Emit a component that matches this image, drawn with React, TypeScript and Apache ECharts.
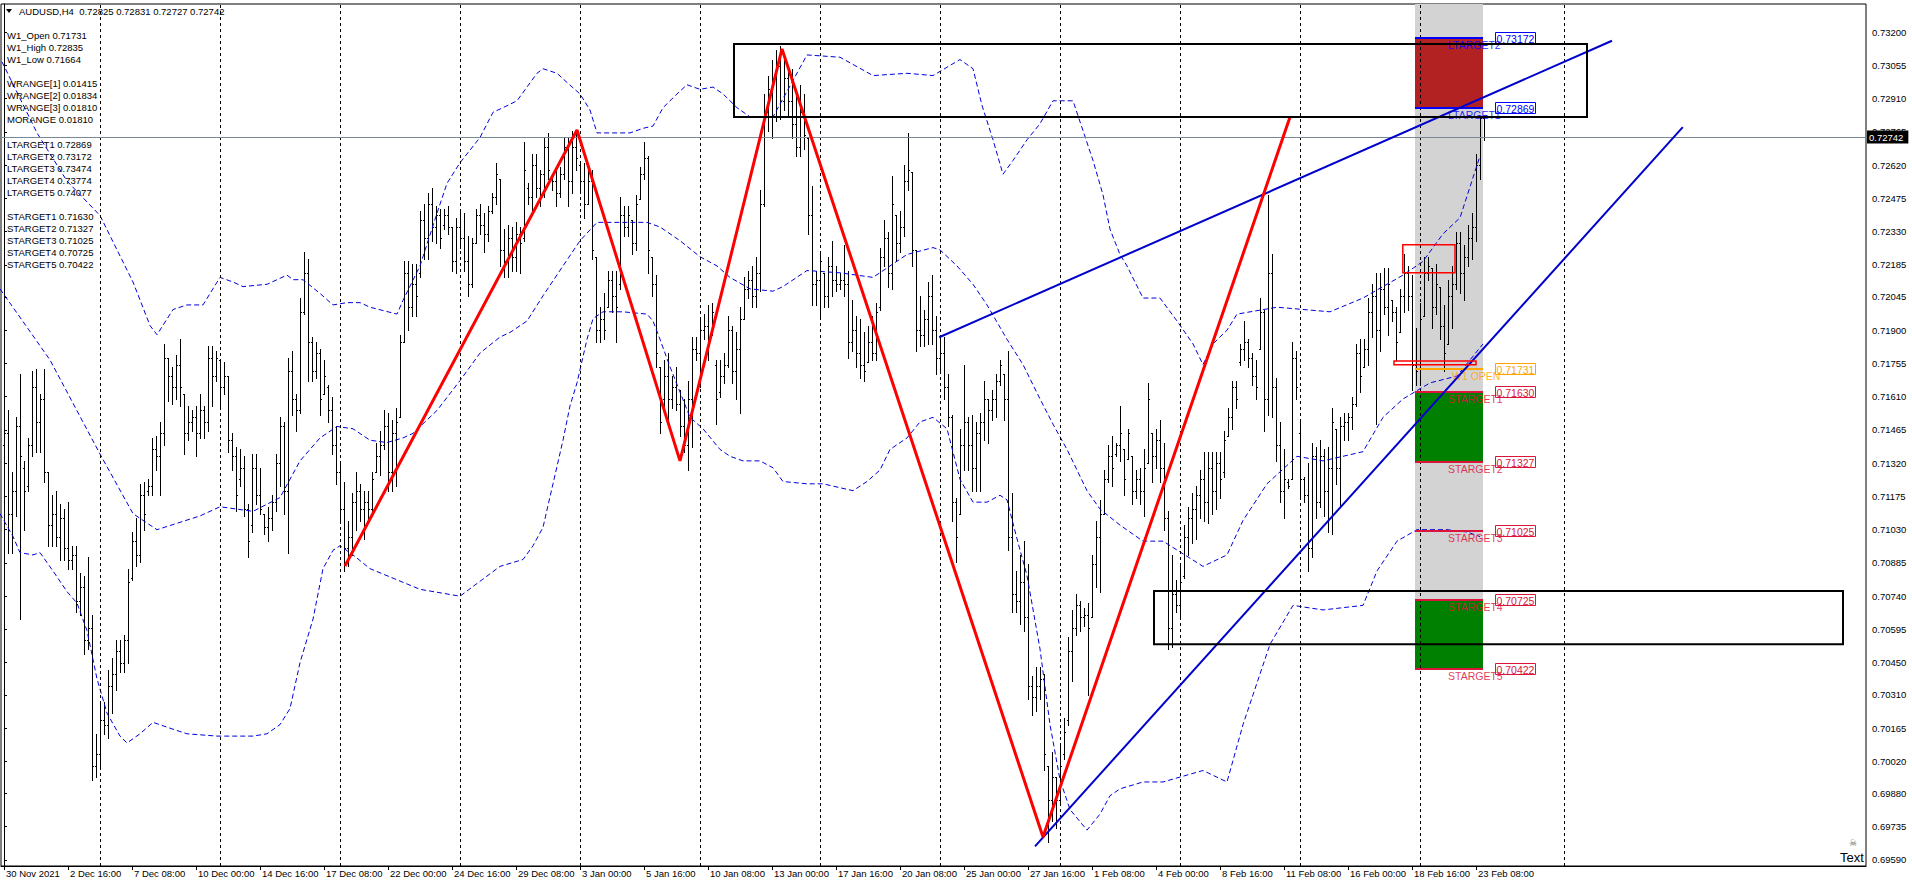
import React, { useEffect, useRef } from "react";
import * as echarts from "echarts";

const FONT = '"Liberation Sans", Arial, sans-serif';

// ---------- axis ----------
const Y_MIN = 0.695636;
const Y_MAX = 0.733221;
const X_MIN = -0.75;
const X_MAX = 465.5;
const Y_TICKS = [0.732, 0.73055, 0.7291, 0.72765, 0.7262, 0.72475, 0.7233, 0.72185, 0.72045, 0.719, 0.71755, 0.7161, 0.71465, 0.7132, 0.71175, 0.7103, 0.70885, 0.7074, 0.70595, 0.7045, 0.7031, 0.70165, 0.7002, 0.6988, 0.69735, 0.6959];
const DATE_LABELS = ["30 Nov 2021", "2 Dec 16:00", "7 Dec 08:00", "10 Dec 00:00", "14 Dec 16:00", "17 Dec 08:00", "22 Dec 00:00", "24 Dec 16:00", "29 Dec 08:00", "3 Jan 00:00", "5 Jan 16:00", "10 Jan 08:00", "13 Jan 00:00", "17 Jan 16:00", "20 Jan 08:00", "25 Jan 00:00", "27 Jan 16:00", "1 Feb 08:00", "4 Feb 00:00", "8 Feb 16:00", "11 Feb 08:00", "16 Feb 00:00", "18 Feb 16:00", "23 Feb 08:00"];
const BARS_PER_LABEL = 16;
const WEEK_SEPARATORS = [24, 54, 84, 114, 144, 174, 204, 234, 264, 294, 324, 354, 390];

// ---------- header / info ----------
const SYMBOL = "AUDUSD,H4";
const LAST_OHLC = [0.72825, 0.72831, 0.72727, 0.72742];
const W1_VALUES = [0.71731, 0.72835, 0.71664]; // open, high, low
const WRANGES = [0.01415, 0.01834, 0.0181];
const MORANGE = 0.0181;
const LTARGETS = [0.72869, 0.73172, 0.73474, 0.73774, 0.74077];
const STARGETS = [0.7163, 0.71327, 0.71025, 0.70725, 0.70422];

// ---------- OHLC bars, H4, one array per week [open, high, low, close] ----------
const WEEK_48 = [
  [0.714, 0.7154, 0.7127, 0.7145], [0.7145, 0.7155, 0.7093, 0.711], [0.711, 0.7128, 0.7093, 0.712], [0.712, 0.7152, 0.7109, 0.7148],
  [0.7148, 0.7171, 0.7064, 0.7135], [0.713, 0.7133, 0.7103, 0.712], [0.7122, 0.7143, 0.712, 0.714], [0.714, 0.7172, 0.7135, 0.7165],
  [0.7165, 0.7173, 0.7137, 0.715], [0.715, 0.7162, 0.7137, 0.716], [0.716, 0.7173, 0.7124, 0.7128], [0.7128, 0.7128, 0.7096, 0.7105],
  [0.7105, 0.7118, 0.7096, 0.711], [0.711, 0.712, 0.7096, 0.71], [0.71, 0.7114, 0.709, 0.7108], [0.7108, 0.7112, 0.709, 0.7095],
  [0.7095, 0.7115, 0.7086, 0.709], [0.709, 0.7096, 0.7086, 0.7092], [0.7092, 0.7096, 0.7067, 0.7072], [0.7072, 0.7084, 0.7066, 0.7078],
  [0.7078, 0.7083, 0.7049, 0.7055], [0.7055, 0.7091, 0.7051, 0.706], [0.706, 0.7066, 0.6994, 0.7], [0.7, 0.7014, 0.6995, 0.7005],
];
const WEEK_49 = [
  [0.7005, 0.7027, 0.6999, 0.702], [0.702, 0.7028, 0.7014, 0.7018], [0.7018, 0.7042, 0.7012, 0.7035], [0.7035, 0.7047, 0.7023, 0.704],
  [0.704, 0.7055, 0.7033, 0.705], [0.705, 0.7055, 0.7041, 0.7045], [0.7045, 0.7057, 0.7041, 0.7055], [0.7055, 0.7086, 0.7045, 0.708],
  [0.7082, 0.7102, 0.7081, 0.7098], [0.7098, 0.7108, 0.7087, 0.7092], [0.7092, 0.7123, 0.7089, 0.7118], [0.7118, 0.7124, 0.7103, 0.711],
  [0.712, 0.7125, 0.7118, 0.7122], [0.7122, 0.7143, 0.7118, 0.7138], [0.7138, 0.7144, 0.7129, 0.7135], [0.7135, 0.715, 0.7118, 0.7145],
  [0.7145, 0.7184, 0.714, 0.7178], [0.7178, 0.7178, 0.7159, 0.717], [0.717, 0.7174, 0.7158, 0.7165], [0.7165, 0.7179, 0.716, 0.7175],
  [0.7175, 0.7186, 0.7157, 0.7165], [0.7162, 0.7162, 0.7136, 0.7145], [0.7145, 0.7157, 0.7142, 0.715], [0.715, 0.7155, 0.7146, 0.7152],
  [0.7152, 0.7157, 0.7135, 0.7145], [0.7145, 0.7162, 0.7143, 0.7155], [0.7155, 0.7157, 0.7143, 0.715], [0.715, 0.7183, 0.7146, 0.7178],
  [0.7178, 0.7183, 0.7157, 0.717], [0.717, 0.7181, 0.7168, 0.7178],
];
const WEEK_50 = [
  [0.7177, 0.7177, 0.7157, 0.7165], [0.7165, 0.7176, 0.7162, 0.717], [0.717, 0.717, 0.7137, 0.7142], [0.7142, 0.7145, 0.7129, 0.7135],
  [0.7135, 0.7139, 0.7111, 0.7118], [0.7125, 0.7138, 0.7122, 0.713], [0.713, 0.7135, 0.7109, 0.7112], [0.7112, 0.7114, 0.7091, 0.7098],
  [0.7105, 0.7136, 0.7102, 0.713], [0.713, 0.7136, 0.7114, 0.7118], [0.7118, 0.713, 0.711, 0.7112], [0.711, 0.711, 0.7101, 0.7104],
  [0.7104, 0.7113, 0.7098, 0.7108], [0.7108, 0.7118, 0.7103, 0.7115], [0.7115, 0.7136, 0.7111, 0.7132], [0.7132, 0.7152, 0.7122, 0.7148],
  [0.7148, 0.715, 0.711, 0.712], [0.712, 0.7178, 0.7093, 0.7172], [0.7172, 0.7181, 0.7153, 0.716], [0.716, 0.7162, 0.7146, 0.7155],
  [0.7155, 0.7204, 0.7154, 0.7198], [0.7198, 0.7224, 0.7197, 0.7215], [0.7215, 0.7221, 0.7168, 0.7185], [0.7185, 0.7187, 0.7168, 0.7172],
  [0.7172, 0.7185, 0.7169, 0.718], [0.718, 0.7182, 0.7153, 0.716], [0.7162, 0.7177, 0.7162, 0.717], [0.7165, 0.7166, 0.715, 0.7155],
  [0.7155, 0.7161, 0.7136, 0.714], [0.714, 0.7148, 0.7123, 0.7128],
];
const WEEK_51 = [
  [0.7128, 0.7133, 0.7107, 0.7112], [0.7112, 0.7124, 0.7085, 0.7095], [0.7095, 0.7107, 0.7087, 0.71], [0.71, 0.7119, 0.7092, 0.7115],
  [0.7115, 0.7128, 0.7103, 0.712], [0.712, 0.7123, 0.7107, 0.7112], [0.7112, 0.712, 0.7099, 0.7115], [0.7115, 0.712, 0.7107, 0.7112],
  [0.7112, 0.7128, 0.7109, 0.7125], [0.7128, 0.7141, 0.7128, 0.7135], [0.7135, 0.7146, 0.7127, 0.714], [0.714, 0.7155, 0.7138, 0.7148],
  [0.7148, 0.7154, 0.712, 0.7128], [0.7128, 0.7151, 0.712, 0.7145], [0.7145, 0.7156, 0.7122, 0.715], [0.7152, 0.7188, 0.7152, 0.7185],
  [0.7185, 0.722, 0.7185, 0.7215], [0.7215, 0.722, 0.719, 0.72], [0.72, 0.7219, 0.7196, 0.721], [0.721, 0.7219, 0.7196, 0.7205],
  [0.7215, 0.7242, 0.7213, 0.7238], [0.7238, 0.7245, 0.7221, 0.723], [0.723, 0.725, 0.7221, 0.7245], [0.7245, 0.7252, 0.7229, 0.7235],
  [0.7235, 0.7244, 0.7228, 0.724], [0.724, 0.7243, 0.7226, 0.723], [0.7236, 0.7243, 0.7234, 0.724], [0.724, 0.7244, 0.7232, 0.7235],
  [0.7235, 0.7235, 0.7216, 0.722], [0.722, 0.7239, 0.7215, 0.7235],
];
const WEEK_52 = [
  [0.7235, 0.7242, 0.7226, 0.723], [0.723, 0.7241, 0.7216, 0.722], [0.722, 0.7231, 0.7205, 0.721], [0.721, 0.723, 0.7209, 0.7228],
  [0.7228, 0.7243, 0.7228, 0.724], [0.724, 0.7245, 0.7232, 0.7236], [0.7236, 0.7241, 0.7224, 0.7232], [0.7232, 0.7244, 0.7229, 0.7242],
  [0.7242, 0.725, 0.7241, 0.7248], [0.7248, 0.7263, 0.7245, 0.7258], [0.7256, 0.7256, 0.7218, 0.7225], [0.7225, 0.7234, 0.7213, 0.722],
  [0.722, 0.7236, 0.7213, 0.723], [0.723, 0.7235, 0.7216, 0.7222], [0.7222, 0.7237, 0.7216, 0.7232], [0.7232, 0.7235, 0.7215, 0.7228],
  [0.723, 0.7272, 0.7229, 0.726], [0.7252, 0.7254, 0.7245, 0.7248], [0.7248, 0.7267, 0.7241, 0.7262], [0.7262, 0.7267, 0.7248, 0.7252],
  [0.7252, 0.726, 0.7244, 0.7258], [0.7258, 0.7274, 0.7248, 0.727], [0.727, 0.7276, 0.7256, 0.726], [0.7257, 0.7258, 0.7251, 0.7255],
  [0.7255, 0.7261, 0.7244, 0.725], [0.725, 0.7261, 0.7248, 0.7258], [0.7258, 0.7274, 0.7256, 0.727], [0.727, 0.7274, 0.7244, 0.7255],
  [0.7255, 0.7277, 0.725, 0.727], [0.727, 0.7277, 0.726, 0.7265],
];
const WEEK_01 = [
  [0.7262, 0.7263, 0.7251, 0.7255], [0.7255, 0.7263, 0.7239, 0.7245], [0.7245, 0.7261, 0.7245, 0.7255], [0.7255, 0.726, 0.7221, 0.7225],
  [0.7222, 0.7222, 0.7185, 0.719], [0.719, 0.72, 0.7185, 0.7195], [0.7195, 0.7206, 0.7186, 0.719], [0.72, 0.7216, 0.72, 0.7212],
  [0.7212, 0.7216, 0.7198, 0.7205], [0.7205, 0.7216, 0.7185, 0.72], [0.721, 0.7248, 0.7208, 0.724], [0.724, 0.7244, 0.7231, 0.7235],
  [0.7235, 0.7244, 0.7231, 0.724], [0.7238, 0.7238, 0.7223, 0.7228], [0.7228, 0.7249, 0.7225, 0.7245], [0.7247, 0.7261, 0.7247, 0.7258],
  [0.7258, 0.7272, 0.7256, 0.7265], [0.7265, 0.7266, 0.7215, 0.7225], [0.7222, 0.7222, 0.7205, 0.721], [0.721, 0.7214, 0.7174, 0.718],
  [0.7174, 0.7174, 0.7145, 0.715], [0.716, 0.7177, 0.7156, 0.717], [0.717, 0.718, 0.7151, 0.716], [0.716, 0.717, 0.7156, 0.7165],
  [0.7165, 0.7174, 0.7155, 0.7158], [0.7158, 0.7164, 0.7144, 0.7148], [0.7148, 0.716, 0.7137, 0.714], [0.714, 0.7168, 0.7129, 0.716],
  [0.716, 0.7187, 0.7139, 0.7182], [0.7182, 0.7187, 0.7177, 0.718],
];
const WEEK_02 = [
  [0.718, 0.7195, 0.7165, 0.719], [0.719, 0.7197, 0.7186, 0.7192], [0.7192, 0.7201, 0.7177, 0.7185], [0.7188, 0.7202, 0.7188, 0.7198],
  [0.7175, 0.7177, 0.7149, 0.716], [0.7163, 0.7177, 0.7161, 0.717], [0.717, 0.718, 0.7167, 0.7175], [0.7175, 0.7196, 0.7174, 0.719],
  [0.719, 0.7192, 0.7167, 0.7172], [0.7172, 0.7189, 0.716, 0.7182], [0.7182, 0.72, 0.7154, 0.7195], [0.7195, 0.7213, 0.7195, 0.7208],
  [0.7208, 0.7216, 0.7204, 0.7212], [0.7212, 0.7218, 0.72, 0.7205], [0.7205, 0.7222, 0.72, 0.7215], [0.7215, 0.7251, 0.7207, 0.7245],
  [0.7245, 0.7293, 0.7244, 0.7285], [0.7285, 0.7301, 0.7277, 0.7295], [0.7295, 0.7308, 0.7274, 0.73], [0.73, 0.7312, 0.7281, 0.7305],
  [0.7305, 0.7314, 0.7282, 0.729], [0.729, 0.731, 0.7286, 0.73], [0.73, 0.7304, 0.7284, 0.729], [0.729, 0.7304, 0.7274, 0.728],
  [0.728, 0.7295, 0.7266, 0.727], [0.727, 0.7297, 0.7266, 0.7285], [0.7285, 0.7293, 0.7269, 0.7275], [0.7274, 0.7274, 0.7232, 0.724],
  [0.724, 0.7253, 0.7201, 0.721], [0.721, 0.7216, 0.7201, 0.7212],
];
const WEEK_03 = [
  [0.7212, 0.7224, 0.7196, 0.722], [0.7215, 0.7215, 0.72, 0.7205], [0.7205, 0.7222, 0.72, 0.7218], [0.7218, 0.7229, 0.7205, 0.7212],
  [0.7212, 0.7218, 0.7207, 0.721], [0.721, 0.7215, 0.7208, 0.7212], [0.7212, 0.7227, 0.7205, 0.721], [0.721, 0.7216, 0.7178, 0.7185],
  [0.7185, 0.7203, 0.7181, 0.719], [0.719, 0.7196, 0.7174, 0.718], [0.718, 0.7195, 0.7169, 0.7175], [0.7175, 0.7189, 0.7168, 0.7172],
  [0.7176, 0.7192, 0.7176, 0.7185], [0.7185, 0.7196, 0.7177, 0.718], [0.718, 0.7202, 0.7177, 0.7198], [0.72, 0.7226, 0.7199, 0.7222],
  [0.7222, 0.7238, 0.7218, 0.723], [0.723, 0.7233, 0.7209, 0.7215], [0.7215, 0.7257, 0.7208, 0.7245], [0.724, 0.724, 0.722, 0.7228],
  [0.7228, 0.7242, 0.7224, 0.7235], [0.7235, 0.7262, 0.7231, 0.7255], [0.7255, 0.7276, 0.7251, 0.726], [0.7259, 0.7259, 0.7218, 0.7225],
  [0.7225, 0.7225, 0.7181, 0.719], [0.719, 0.7205, 0.7183, 0.7188], [0.7188, 0.7199, 0.7183, 0.7195], [0.7195, 0.7211, 0.7184, 0.7205],
  [0.7205, 0.7214, 0.7184, 0.719], [0.719, 0.7196, 0.7171, 0.7178],
];
const WEEK_04 = [
  [0.7178, 0.7187, 0.7172, 0.718], [0.718, 0.7187, 0.716, 0.7165], [0.7165, 0.7171, 0.7148, 0.7152], [0.7152, 0.7153, 0.7107, 0.7115],
  [0.7115, 0.7117, 0.7089, 0.71], [0.711, 0.7147, 0.711, 0.714], [0.714, 0.7175, 0.7129, 0.715], [0.715, 0.7152, 0.7129, 0.714],
  [0.714, 0.7153, 0.712, 0.713], [0.713, 0.715, 0.712, 0.7145], [0.7145, 0.7154, 0.712, 0.715], [0.715, 0.7168, 0.7142, 0.716],
  [0.716, 0.716, 0.7141, 0.7155], [0.7155, 0.7164, 0.7151, 0.716], [0.716, 0.7171, 0.7152, 0.7168], [0.7168, 0.7177, 0.7166, 0.7175],
  [0.7171, 0.7171, 0.7151, 0.716], [0.716, 0.7181, 0.7094, 0.71], [0.71, 0.7119, 0.7067, 0.7075], [0.7075, 0.7085, 0.7067, 0.7072],
  [0.7072, 0.7092, 0.7062, 0.708], [0.708, 0.7098, 0.7059, 0.7065], [0.7065, 0.7088, 0.7029, 0.7035], [0.7035, 0.7039, 0.7022, 0.703],
  [0.703, 0.7043, 0.7024, 0.7035], [0.7035, 0.7043, 0.7029, 0.7038], [0.7038, 0.704, 0.6998, 0.7005], [0.7, 0.7, 0.6967, 0.6985],
  [0.6985, 0.7006, 0.6976, 0.6995], [0.6995, 0.6995, 0.6973, 0.6985],
];
const WEEK_05 = [
  [0.6985, 0.7009, 0.6984, 0.7], [0.7005, 0.7021, 0.7003, 0.7015], [0.702, 0.7056, 0.7018, 0.705], [0.705, 0.7068, 0.7037, 0.706],
  [0.706, 0.7075, 0.7057, 0.707], [0.707, 0.7072, 0.7059, 0.7065], [0.7065, 0.7069, 0.7061, 0.7066], [0.7066, 0.7071, 0.7031, 0.706],
  [0.7065, 0.7092, 0.7065, 0.7088], [0.7088, 0.7107, 0.7078, 0.71], [0.71, 0.7116, 0.7076, 0.711], [0.711, 0.7129, 0.711, 0.7125],
  [0.7125, 0.714, 0.7124, 0.7135], [0.7135, 0.7144, 0.7122, 0.713], [0.7136, 0.7141, 0.7135, 0.714], [0.714, 0.7157, 0.7133, 0.7145],
  [0.7138, 0.7138, 0.7118, 0.7125], [0.7134, 0.7147, 0.7134, 0.7145], [0.7135, 0.7135, 0.7114, 0.712], [0.712, 0.7129, 0.7117, 0.7125],
  [0.7125, 0.713, 0.7114, 0.712], [0.712, 0.7138, 0.7109, 0.713], [0.7132, 0.7167, 0.7132, 0.716], [0.7145, 0.7145, 0.7124, 0.7135],
  [0.7135, 0.7147, 0.713, 0.7142], [0.7142, 0.7151, 0.7124, 0.713], [0.713, 0.7141, 0.7103, 0.7108], [0.7108, 0.7111, 0.7051, 0.706],
  [0.706, 0.7092, 0.7052, 0.7075], [0.7075, 0.7081, 0.7067, 0.707],
];
const WEEK_06 = [
  [0.707, 0.7087, 0.7064, 0.708], [0.7083, 0.7105, 0.7082, 0.71], [0.71, 0.7113, 0.7092, 0.7108], [0.7108, 0.7119, 0.7097, 0.7112],
  [0.7112, 0.7122, 0.7099, 0.7118], [0.7118, 0.7129, 0.7108, 0.7125], [0.7125, 0.7137, 0.7107, 0.7115], [0.7115, 0.7137, 0.7106, 0.713],
  [0.713, 0.7137, 0.711, 0.712], [0.712, 0.7137, 0.7112, 0.7132], [0.7132, 0.7137, 0.7117, 0.7125], [0.7128, 0.7146, 0.7126, 0.7142],
  [0.7144, 0.7156, 0.7144, 0.7152], [0.7152, 0.7168, 0.7147, 0.7165], [0.7165, 0.7168, 0.7156, 0.716], [0.7176, 0.7184, 0.7175, 0.7182],
  [0.7182, 0.7194, 0.7177, 0.7185], [0.7185, 0.7186, 0.7174, 0.7178], [0.7178, 0.718, 0.7166, 0.717], [0.717, 0.7177, 0.716, 0.7165],
  [0.7182, 0.7204, 0.7182, 0.7198], [0.7198, 0.7199, 0.7146, 0.716], [0.716, 0.7249, 0.7153, 0.7215], [0.7215, 0.7223, 0.7152, 0.7165],
  [0.7165, 0.7169, 0.7133, 0.714], [0.714, 0.715, 0.7115, 0.712], [0.712, 0.7138, 0.7108, 0.7125], [0.7124, 0.7125, 0.7121, 0.7122],
  [0.7125, 0.7185, 0.7125, 0.7178], [0.7178, 0.7181, 0.716, 0.7165],
];
const WEEK_07 = [
  [0.7145, 0.715, 0.7117, 0.7125], [0.7125, 0.7126, 0.7115, 0.7118], [0.7118, 0.7132, 0.7085, 0.7095], [0.7095, 0.7141, 0.7091, 0.7135],
  [0.7135, 0.7139, 0.7108, 0.7115], [0.7115, 0.7142, 0.7113, 0.7135], [0.7135, 0.7138, 0.7109, 0.712], [0.712, 0.7139, 0.7102, 0.713],
  [0.713, 0.7156, 0.7101, 0.715], [0.7147, 0.7147, 0.7123, 0.713], [0.713, 0.7152, 0.7113, 0.7148], [0.7148, 0.7154, 0.7142, 0.715],
  [0.715, 0.7154, 0.7142, 0.7152], [0.7152, 0.7161, 0.7147, 0.7158], [0.7158, 0.7184, 0.7157, 0.718], [0.718, 0.7186, 0.7163, 0.717],
  [0.7174, 0.7186, 0.7174, 0.7182], [0.7182, 0.7204, 0.7175, 0.7198], [0.7198, 0.721, 0.7187, 0.7205], [0.7205, 0.7215, 0.7149, 0.719],
  [0.719, 0.7215, 0.7181, 0.7208], [0.7208, 0.7217, 0.7197, 0.72], [0.72, 0.7217, 0.7188, 0.721], [0.7203, 0.7203, 0.7194, 0.7198],
  [0.7198, 0.72, 0.7177, 0.7185], [0.7189, 0.7208, 0.7189, 0.7205], [0.7205, 0.7223, 0.7198, 0.7215], [0.7215, 0.7218, 0.7199, 0.7205],
  [0.7205, 0.7214, 0.7164, 0.7175], [0.7175, 0.7191, 0.7166, 0.7172],
];
const WEEK_08 = [
  [0.71731, 0.7202, 0.71664, 0.7195], [0.7196, 0.7222, 0.7196, 0.7215], [0.7215, 0.7222, 0.7212, 0.7218], [0.7217, 0.7217, 0.7191, 0.72],
  [0.72, 0.7219, 0.7197, 0.721], [0.7209, 0.7209, 0.7186, 0.7192], [0.7192, 0.7201, 0.7172, 0.718], [0.7184, 0.7212, 0.7184, 0.7205],
  [0.7205, 0.7218, 0.7191, 0.721], [0.721, 0.7233, 0.7208, 0.7228], [0.7228, 0.7233, 0.7206, 0.7215], [0.7215, 0.7227, 0.7203, 0.7222],
  [0.7222, 0.7236, 0.7218, 0.723], [0.723, 0.7241, 0.7221, 0.7235], [0.7235, 0.7267, 0.7229, 0.7262], [0.7262, 0.72835, 0.7256, 0.72825],
  [0.72825, 0.72831, 0.72727, 0.72742],
];
const WEEKS = [WEEK_48, WEEK_49, WEEK_50, WEEK_51, WEEK_52, WEEK_01, WEEK_02, WEEK_03, WEEK_04, WEEK_05, WEEK_06, WEEK_07, WEEK_08];

// ---------- Bollinger bands: [bar index, price] ----------
const BB_UPPER = [[-0.5, 0.7307], [8.25, 0.7276], [15.75, 0.7255], [24, 0.724], [28.25, 0.7225], [32.25, 0.7211], [36.5, 0.7192], [38.25, 0.7188], [42.25, 0.7199], [45.75, 0.7201], [49.75, 0.7201], [54, 0.7213], [57.25, 0.7211], [59.75, 0.7209], [65.75, 0.721], [70.75, 0.7214], [72.25, 0.7212], [74.75, 0.7212], [79, 0.7206], [82.25, 0.7201], [85.75, 0.7202], [89, 0.7202], [91.5, 0.72], [98.25, 0.7197], [99.75, 0.7203], [104, 0.7218], [108.25, 0.7241], [110.75, 0.7254], [114, 0.7263], [119, 0.7274], [122.25, 0.7285], [124.75, 0.7287], [128.25, 0.729], [130.75, 0.7296], [133.25, 0.7302], [134.75, 0.7304], [138.25, 0.7302], [140.75, 0.7298], [144, 0.7293], [146.5, 0.7286], [148.25, 0.7276], [149.75, 0.7276], [156.5, 0.7276], [159.75, 0.7278], [162.25, 0.7279], [164.75, 0.7287], [168.25, 0.7293], [170.75, 0.7297], [174, 0.7295], [177.25, 0.7296], [179.75, 0.7293], [183.25, 0.7287], [186.5, 0.7283], [192.25, 0.7283], [200.75, 0.731], [209, 0.7309], [217.25, 0.7301], [225.75, 0.7302], [232.25, 0.7301], [239, 0.7308], [242.25, 0.7304], [244.5, 0.7288], [247.25, 0.7273], [249.75, 0.7258], [252.25, 0.7264], [255.75, 0.7273], [259, 0.728], [262.25, 0.729], [267.25, 0.729], [269.75, 0.7277], [272.25, 0.7264], [274.75, 0.7249], [276.5, 0.7234], [279, 0.7223], [280.75, 0.7218], [284.75, 0.7204], [289, 0.7204], [293.25, 0.7194], [297.25, 0.7184], [299.75, 0.7175], [302.25, 0.7184], [305.75, 0.719], [308.25, 0.7197], [318.25, 0.72], [331.5, 0.7198], [339.75, 0.7204], [349.75, 0.7214], [354.75, 0.722], [359.75, 0.7232], [364, 0.7239], [369, 0.7266]];
const BB_MIDDLE = [[-1, 0.7208], [11.5, 0.7177], [24, 0.7136], [32.25, 0.711], [38.25, 0.7103], [49, 0.7109], [54, 0.7113], [62.25, 0.7111], [69, 0.7117], [74, 0.7133], [79, 0.7143], [83.25, 0.7148], [87.25, 0.7147], [91.5, 0.7142], [95.75, 0.7141], [99.75, 0.7143], [102.25, 0.7145], [108.25, 0.7155], [114, 0.7168], [119, 0.718], [124, 0.7187], [126.5, 0.7189], [130.75, 0.7194], [134.75, 0.7205], [139.75, 0.7218], [144, 0.7229], [148.25, 0.7237], [154.75, 0.7237], [160.75, 0.7237], [164, 0.7235], [169, 0.7229], [174, 0.7222], [178.25, 0.7218], [181.5, 0.7213], [186.5, 0.7208], [192.25, 0.7207], [194.75, 0.7209], [200.75, 0.7216], [209, 0.7215], [217.25, 0.7213], [225.75, 0.7223], [232.25, 0.7226], [234, 0.7225], [238.25, 0.7218], [242.25, 0.721], [245.75, 0.7201], [250.75, 0.7186], [254.75, 0.7175], [259, 0.716], [262.25, 0.7149], [265.75, 0.7138], [270.75, 0.712], [274, 0.7112], [279, 0.7105], [284.75, 0.7098], [289.75, 0.7098], [299.75, 0.7087], [305.75, 0.7092], [309.75, 0.7107], [315.75, 0.7123], [323.25, 0.7135], [329.75, 0.7133], [339.75, 0.7137], [344.75, 0.7152], [349.75, 0.716], [356.5, 0.7167], [363.25, 0.717], [369.75, 0.7184]];
const BB_LOWER = [[-1, 0.711], [2.25, 0.71], [4, 0.7093], [7.25, 0.7092], [9, 0.7093], [12.25, 0.7085], [15.75, 0.7076], [18.25, 0.7071], [20.75, 0.7059], [23.25, 0.7038], [25.75, 0.7023], [29, 0.7013], [30.75, 0.701], [34, 0.7014], [37.25, 0.7019], [42.25, 0.7016], [45.75, 0.7014], [53.25, 0.7013], [62.25, 0.7013], [65.75, 0.7014], [69, 0.7018], [71.5, 0.7025], [74, 0.7045], [77.25, 0.7064], [79.75, 0.7086], [82.25, 0.7094], [84, 0.7096], [87.25, 0.7092], [91.5, 0.7086], [104, 0.7077], [114, 0.7074], [124, 0.7087], [129.75, 0.709], [132.25, 0.7096], [134.75, 0.7104], [137.25, 0.7123], [139.75, 0.7142], [141.5, 0.7157], [143.25, 0.7167], [145.75, 0.7186], [147.25, 0.7195], [149.75, 0.7198], [154.75, 0.7198], [160.75, 0.7197], [162.25, 0.7194], [164, 0.7186], [166.5, 0.7174], [169, 0.7163], [171.5, 0.7152], [174.75, 0.7147], [179, 0.7138], [181.5, 0.7135], [184.75, 0.7133], [189, 0.7133], [192.25, 0.713], [194.75, 0.7124], [200.75, 0.7123], [204.75, 0.7123], [212.25, 0.712], [215.75, 0.7124], [219, 0.7129], [221.5, 0.7138], [225.75, 0.7143], [229, 0.715], [232.25, 0.7152], [235.75, 0.7147], [239, 0.7125], [242.25, 0.7115], [245.75, 0.7115], [249, 0.7118], [250.75, 0.7116], [253.25, 0.7099], [255.75, 0.7083], [259, 0.7051], [261.5, 0.7018], [264, 0.6994], [266.5, 0.6981], [270.75, 0.6972], [274, 0.6979], [276.5, 0.6987], [279, 0.699], [284.75, 0.6993], [289.75, 0.6993], [299.75, 0.6998], [305.75, 0.6993], [309.75, 0.7018], [312.25, 0.7031], [316.5, 0.7053], [322.25, 0.707], [329.75, 0.7068], [339.75, 0.707], [343.25, 0.7085], [348.25, 0.7098], [353.25, 0.7103], [360.75, 0.7103], [365.75, 0.7102], [369, 0.71]];

// ---------- drawn objects ----------
const ZIGZAG = [[85.25, 0.70872], [143.25, 0.72773], [169, 0.7133], [194.5, 0.73126], [259.75, 0.6969], [321.5, 0.72829]];
const TREND_UPPER = [[233.8, 0.71869], [402, 0.73162]];
const TREND_LOWER = [[257.75, 0.69649], [419.7, 0.72785]];
// [x0, x1, top price, bottom price]
const BLACK_BOXES = [[182.5, 395.75, 0.73148, 0.72829], [287.5, 459.75, 0.70763, 0.7053]];
const RED_BOXES = [[349.7, 362.75, 0.72272, 0.7215], [347.5, 368, 0.71766, 0.71749]];
const TARGET_ZONE_X = [352.75, 369.75];
const PRICE_BOX_X = 372.75;

function fmt(v: number) {
  return v.toFixed(5);
}

function buildOption() {
  const bars: number[][] = [];
  let idx = 0;
  WEEKS.forEach((w) => w.forEach((b) => { bars.push([idx, b[0], b[1], b[2], b[3]]); idx++; }));

  const zones = [
    { top: LTARGETS[4], bottom: STARGETS[4], color: "#d3d3d3" },
    { top: LTARGETS[1], bottom: LTARGETS[0], color: "#b22222" },
    { top: STARGETS[0], bottom: STARGETS[1], color: "#008000" },
    { top: STARGETS[3], bottom: STARGETS[4], color: "#008000" },
  ];

  const targets: { name: string; value: number; color: string }[] = [];
  LTARGETS.forEach((v, k) => targets.push({ name: "LTARGET" + (k + 1), value: v, color: "#0000ff" }));
  STARGETS.forEach((v, k) => targets.push({ name: "STARGET" + (k + 1), value: v, color: "#dc143c" }));
  targets.push({ name: "W1 OPEN", value: W1_VALUES[0], color: "#ffa500" });

  const rectSeries = (name: string, data: number[][], style: any, z: number) => ({
    name,
    type: "custom",
    silent: true,
    z,
    clip: true,
    data,
    renderItem: (params: any, api: any) => {
      const cs = params.coordSys;
      const a = api.coord([api.value(0), api.value(2)]);
      const b = api.coord([api.value(1), api.value(3)]);
      const y0 = Math.max(a[1], cs.y);
      const y1 = Math.min(b[1], cs.y + cs.height);
      return {
        type: "rect",
        shape: { x: a[0], y: y0, width: b[0] - a[0], height: y1 - y0 },
        style,
      };
    },
  });

  const lineSeries = (name: string, data: number[][], color: string, width: number, z: number, dashed?: boolean, extra?: any) => ({
    name,
    type: "line",
    silent: true,
    z,
    data,
    showSymbol: false,
    symbol: "none",
    smooth: false,
    animation: false,
    lineStyle: { color, width, type: dashed ? [5, 3] : "solid" },
    ...(extra || {}),
  });

  const infoLines: { text: string; y: number }[] = [];
  const pushGroup = (lines: string[], y0: number) => lines.forEach((t, k) => infoLines.push({ text: t, y: y0 + k * 12.1 }));
  pushGroup(["W1_Open " + fmt(W1_VALUES[0]), "W1_High " + fmt(W1_VALUES[1]), "W1_Low " + fmt(W1_VALUES[2])], 35);
  pushGroup([...WRANGES.map((v, k) => "WRANGE[" + (k + 1) + "] " + fmt(v)), "MORANGE " + fmt(MORANGE)], 83);
  pushGroup(LTARGETS.map((v, k) => "LTARGET" + (k + 1) + " " + fmt(v)), 144);
  pushGroup(STARGETS.map((v, k) => "STARGET" + (k + 1) + " " + fmt(v)), 216);

  const labelValues = DATE_LABELS.map((_, k) => k * BARS_PER_LABEL);
  const last = LAST_OHLC[3];

  return {
    animation: false,
    backgroundColor: "#ffffff",
    textStyle: { fontFamily: FONT },
    grid: { left: 1, right: 46, top: 4, bottom: 19, show: true, borderColor: "#000", borderWidth: 1, backgroundColor: "#fff" },
    xAxis: {
      type: "value",
      min: X_MIN,
      max: X_MAX,
      splitLine: { show: false },
      axisLine: { show: true, lineStyle: { color: "#000", width: 1 } },
      axisTick: { show: true, customValues: labelValues, length: 4, lineStyle: { color: "#000" } },
      axisLabel: {
        customValues: labelValues,
        formatter: (v: number) => DATE_LABELS[Math.round(v / BARS_PER_LABEL)] || "",
        align: "left",
        margin: 2,
        padding: [0, 0, 0, 2],
        color: "#000",
        fontSize: 9.5,
        fontFamily: FONT,
      },
    },
    yAxis: {
      type: "value",
      position: "right",
      min: Y_MIN,
      max: Y_MAX,
      splitLine: { show: false },
      axisLine: { show: true, lineStyle: { color: "#000", width: 1 } },
      axisTick: { show: true, customValues: Y_TICKS, length: 3, lineStyle: { color: "#000" } },
      axisLabel: { customValues: Y_TICKS, formatter: (v: number) => fmt(v), margin: 6, color: "#000", fontSize: 9.5, fontFamily: FONT },
    },
    graphic: [
      { type: "polygon", shape: { points: [[6, 9], [12, 9], [9, 13]] }, style: { fill: "#000" }, z: 100 },
      {
        type: "text",
        x: 19,
        y: 11,
        z: 100,
        style: { text: SYMBOL + "  " + LAST_OHLC.map(fmt).join(" "), fill: "#000", font: "9.5px " + FONT, verticalAlign: "middle" },
      },
      ...infoLines.map((l) => ({
        type: "text",
        x: 7,
        y: l.y,
        z: 100,
        style: { text: l.text, fill: "#000", font: "9.5px " + FONT, verticalAlign: "middle" },
      })),
      { type: "text", x: 1853, y: 843, z: 100, style: { text: "\u2620", fill: "#666", font: "9px DejaVu Sans", align: "center", verticalAlign: "middle" } },
      { type: "text", x: 1840, y: 864, z: 100, style: { text: "Text", fill: "#000", font: "13px " + FONT, verticalAlign: "bottom" } },
    ],
    series: [
      // gray / red / green target zones
      {
        name: "zones",
        type: "custom",
        silent: true,
        z: 1,
        clip: true,
        data: zones.map((zn) => [zn.top, zn.bottom]),
        renderItem: (params: any, api: any) => {
          const cs = params.coordSys;
          const a = api.coord([TARGET_ZONE_X[0], api.value(0)]);
          const b = api.coord([TARGET_ZONE_X[1], api.value(1)]);
          const y0 = Math.max(a[1], cs.y);
          const y1 = Math.min(b[1], cs.y + cs.height);
          return { type: "rect", shape: { x: a[0], y: y0, width: b[0] - a[0], height: y1 - y0 }, style: { fill: zones[params.dataIndex].color } };
        },
      },
      // OHLC bars
      {
        name: "AUDUSD",
        type: "custom",
        silent: true,
        z: 3,
        clip: true,
        data: bars,
        encode: { x: 0, y: [1, 2, 3, 4] },
        renderItem: (params: any, api: any) => {
          const i = api.value(0);
          const ph = api.coord([i, api.value(2)]);
          const pl = api.coord([i, api.value(3)]);
          const po = api.coord([i, api.value(1)]);
          const pc = api.coord([i, api.value(4)]);
          const X = Math.round(ph[0]);
          const yh = Math.round(ph[1]);
          const yl = Math.round(pl[1]);
          return {
            type: "group",
            children: [
              { type: "rect", shape: { x: X, y: yh, width: 1, height: Math.max(1, yl - yh + 1) }, style: { fill: "#000" } },
              { type: "rect", shape: { x: X - 1, y: Math.round(po[1]), width: 1, height: 1 }, style: { fill: "#000" } },
              { type: "rect", shape: { x: X + 1, y: Math.round(pc[1]), width: 1, height: 1 }, style: { fill: "#000" } },
            ],
          };
        },
      },
      lineSeries("BB upper", BB_UPPER, "#0000dd", 1, 4, true),
      lineSeries("BB middle", BB_MIDDLE, "#0000dd", 1, 4, true, {
        markLine: {
          silent: true,
          symbol: ["none", "none"],
          label: { show: false },
          lineStyle: { color: "#000", type: [3, 3], width: 1 },
          data: WEEK_SEPARATORS.map((v) => ({ xAxis: v })),
        },
      }),
      lineSeries("BB lower", BB_LOWER, "#0000dd", 1, 4, true),
      // target lines, labels, price boxes
      {
        name: "targets",
        type: "custom",
        silent: true,
        z: 6,
        clip: false,
        data: targets.map((t) => [t.value]),
        renderItem: (params: any, api: any) => {
          const t = targets[params.dataIndex];
          if (t.value > Y_MAX || t.value < Y_MIN) return { type: "group", children: [] };
          const a = api.coord([TARGET_ZONE_X[0], t.value]);
          const b = api.coord([TARGET_ZONE_X[1], t.value]);
          const bx = api.coord([PRICE_BOX_X, t.value])[0];
          const lx = api.coord([t.name === "W1 OPEN" ? 362 : 361, t.value])[0];
          const y = Math.round(a[1]);
          return {
            type: "group",
            children: [
              { type: "line", shape: { x1: a[0], y1: y, x2: b[0], y2: y }, style: { stroke: t.color, lineWidth: 2 } },
              { type: "text", style: { text: t.name, x: lx, y: y + 7, fill: t.color, font: "10.5px " + FONT, verticalAlign: "middle", opacity: 0.85 } },
              { type: "rect", shape: { x: bx + 0.5, y: y - 5.5, width: 40, height: 11 }, style: { fill: "none", stroke: t.color, lineWidth: 1 } },
              { type: "text", style: { text: fmt(t.value), x: bx + 1.5, y: y + 0.5, fill: t.color, font: "10.5px " + FONT, verticalAlign: "middle" } },
            ],
          };
        },
      },
      lineSeries("trend upper", TREND_UPPER, "#0000cd", 2, 7),
      lineSeries("trend lower", TREND_LOWER, "#0000cd", 2, 7),
      lineSeries("zigzag", ZIGZAG, "#ff0000", 3, 8, false, {
        markLine: {
          silent: true,
          symbol: ["none", "none"],
          lineStyle: { color: "#778899", type: "solid", width: 1 },
          label: {
            show: true,
            position: "end",
            formatter: fmt(last),
            color: "#fff",
            backgroundColor: "#000",
            padding: [2, 5, 1, 2],
            fontSize: 9.5,
            fontFamily: FONT,
            distance: 1,
          },
          data: [[{ coord: [X_MIN, last] }, { coord: [X_MAX, last] }]],
        },
      }),
      rectSeries("black boxes", BLACK_BOXES, { fill: "none", stroke: "#000", lineWidth: 2 }, 9),
      rectSeries("red boxes", RED_BOXES, { fill: "none", stroke: "#ff0000", lineWidth: 1.5 }, 9),
    ],
  };
}

export default function App() {
  const ref = useRef<HTMLDivElement>(null);
  useEffect(() => {
    if (!ref.current) return;
    const chart = echarts.init(ref.current, null, { renderer: "svg" });
    chart.setOption(buildOption() as any);
    return () => chart.dispose();
  }, []);
  return <div ref={ref} style={{ position: "absolute", left: 0, top: 0, width: 1912, height: 885, background: "#fff" }} />;
}
